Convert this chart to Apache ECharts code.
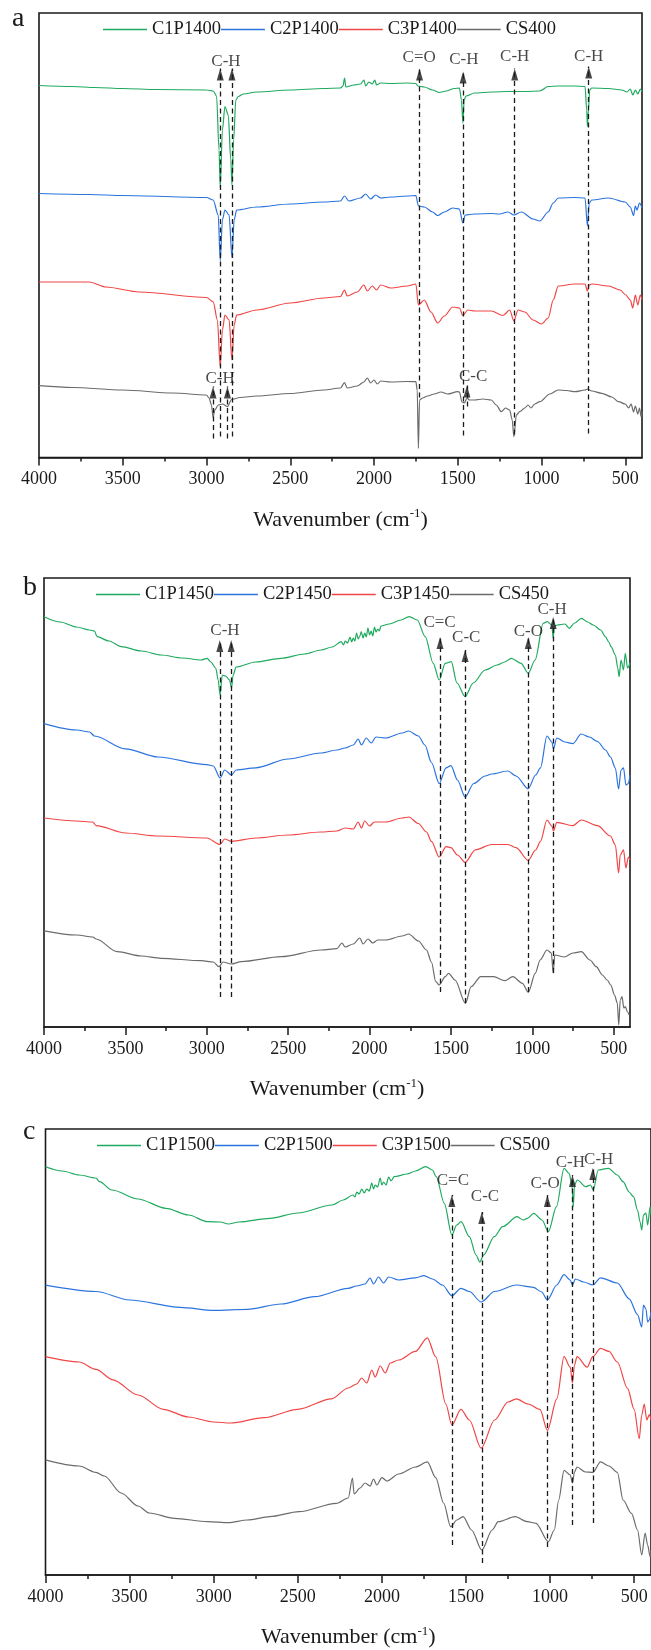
<!DOCTYPE html>
<html>
<head>
<meta charset="utf-8">
<script src="https://cdn.jsdelivr.net/npm/echarts@6/dist/echarts.min.js"></script>
<style>
  html, body { margin: 0; padding: 0; background: #fff; }
  #chart { width: 651px; height: 1650px; }
</style>
</head>
<body>
<div id="chart"></div>
<script>
// FTIR spectra, [wavenumber (cm-1), relative transmittance offset]
// ---- panel a ----
const c1p1400 = [[4000,372],[3800,371],[3663,370],[3500,369],[3300,368],[3000,367.5],[2960,366.5],[2940,361.5],[2925,307.5],[2918,269.5],[2905,327.5],[2890,351],[2870,342.5],[2855,297.5],[2848,272.5],[2838,317.5],[2825,357.5],[2810,361],[2780,363.5],[2700,365.5],[2500,367.5],[2300,369],[2200,369.5],[2185,371.5],[2176,379.5],[2168,370.5],[2120,372.5],[2080,373.5],[2060,377.5],[2050,371.5],[2030,375.5],[2010,373.5],[1995,377.5],[1985,372.5],[1960,374.5],[1900,374],[1800,374.5],[1750,374],[1738,371.5],[1700,370.5],[1650,367.5],[1610,365],[1570,366.5],[1520,369],[1490,369.5],[1478,357.5],[1469,334.5],[1462,357.5],[1450,361.5],[1400,364.5],[1300,365.5],[1200,366],[1100,366],[1010,366.5],[960,371],[900,371.5],[800,371.5],[740,371],[730,347.5],[726,331],[720,347.5],[712,367.5],[700,369.5],[600,369],[520,367.5],[490,365.5],[470,368.5],[455,362.5],[440,367.5],[425,363.5],[410,368.5],[400,365.5]];
const c2p1400 = [[4000,264],[3700,263],[3500,262],[3000,260],[2960,257.5],[2930,242.5],[2918,196.7],[2905,237.5],[2890,247.5],[2865,242.5],[2848,200],[2835,237.5],[2820,247.5],[2700,250.5],[2500,253.5],[2300,255.5],[2200,256.5],[2176,261.5],[2150,256.5],[2080,259.5],[2050,263.5],[2020,258.5],[1990,262.5],[1960,259.5],[1900,260.5],[1800,261.5],[1750,262],[1735,251.5],[1700,250.5],[1650,245.5],[1620,242],[1580,245.5],[1530,249.5],[1490,248.5],[1470,234.5],[1455,242.5],[1400,243.5],[1300,244],[1250,243.5],[1200,245.5],[1165,242.5],[1120,245.5],[1050,238.5],[1010,236.5],[960,245.5],[930,254.5],[900,259.5],[800,260],[740,259.5],[726,231.5],[715,254.5],[700,257.5],[600,259.5],[500,255.5],[470,250.5],[450,242],[440,251.5],[430,247.5],[415,254.5],[400,249.5]];
const c3p1400 = [[4000,175.5],[3800,175.5],[3700,175.5],[3600,170.5],[3400,165.5],[3000,160],[2960,155.7],[2935,137.5],[2918,90.5],[2905,127.5],[2890,142.5],[2865,137.5],[2848,97.5],[2835,132.5],[2820,142.5],[2700,147.5],[2500,154.5],[2300,159.5],[2200,161],[2176,167.5],[2160,161.5],[2100,165.5],[2060,172.5],[2040,166.5],[2010,171.5],[1985,167.5],[1960,172.5],[1900,169.5],[1800,171.5],[1750,173.5],[1735,152.5],[1700,157.5],[1660,145.5],[1620,134.5],[1580,141.5],[1530,150.5],[1490,149.5],[1470,142],[1440,147.5],[1400,146.5],[1300,146.5],[1230,142],[1190,147.5],[1165,136.7],[1140,147.5],[1100,145.5],[1050,137.5],[1000,133.5],[960,139.5],[930,157.5],[900,171.5],[800,173.5],[740,173.5],[726,166.5],[715,172.5],[700,173.5],[600,171.5],[530,167.5],[500,163],[470,157.5],[455,149.5],[440,162.5],[425,152.5],[410,162.5],[400,157.5]];
const cs400 = [[4000,71.8],[3800,70],[3500,67.5],[3200,64.5],[3000,62.5],[2985,59.5],[2970,52.5],[2961,40],[2950,47.5],[2930,52.5],[2905,53.5],[2875,50.8],[2850,58],[2800,60],[2700,61.5],[2500,64],[2300,67.5],[2200,69.5],[2176,74.8],[2160,69.5],[2100,71.5],[2060,75.5],[2040,79.5],[2020,74.5],[2000,77.5],[1980,73.5],[1960,76.5],[1900,75.5],[1800,76],[1750,75.8],[1742,67.5],[1735,9.2],[1728,57.5],[1710,59.5],[1680,61.5],[1640,63.5],[1600,65.5],[1560,63.5],[1500,65.8],[1490,65.5],[1475,55.5],[1460,54.5],[1445,59.5],[1430,57.5],[1400,57.5],[1350,58.5],[1300,57.5],[1270,52.5],[1240,45.8],[1215,49.5],[1190,47.5],[1175,37.5],[1165,20.8],[1150,42.5],[1130,45.8],[1100,49.5],[1080,52.5],[1063,49.5],[1040,53.5],[1010,55.8],[950,63.5],[900,67.5],[850,67],[800,65.8],[740,67.5],[726,68.5],[700,66.5],[640,64.2],[580,60.5],[540,55.8],[500,53.5],[480,49.5],[465,53.5],[450,45.5],[440,51.5],[425,43.5],[415,49.5],[405,40.8],[400,45.5]];

// ---- panel b ----
const c1p1450 = [[4000,410.3],[3900,405],[3800,400],[3720,397],[3690,396],[3674,390.3],[3600,386],[3526,380.3],[3400,376],[3281,372],[3150,369],[3034,367],[2998,368.7],[2975,365],[2945,359],[2930,347],[2918,332],[2905,352],[2885,351],[2860,347],[2848,339],[2838,352],[2820,360],[2700,365],[2543,368.7],[2400,373],[2298,377],[2230,380],[2174,385.3],[2160,382],[2150,386],[2135,384],[2120,390],[2110,385],[2100,389],[2090,386],[2080,394],[2070,388],[2060,391],[2051,395.3],[2040,389],[2030,394],[2020,390],[2010,399],[2000,392],[1990,396],[1980,391],[1970,400],[1960,395],[1950,398],[1940,396],[1930,401],[1880,403],[1806,407],[1757,410.3],[1707,407],[1658,390.3],[1609,363.7],[1572,347],[1535,363.7],[1498,365.3],[1463,344],[1413,330.3],[1363,344],[1290,357],[1216,362],[1170,365],[1130,368.7],[1069,363.7],[1025,353.7],[983,367],[933,403.7],[909,405.3],[880,402],[872,388.7],[865,401],[847,402],[800,403],[773,398.7],[740,404],[699,408.7],[660,405],[626,402],[580,397],[552,390.3],[530,385],[516,380.3],[490,372],[475,359],[467,350.3],[455,367],[440,357],[429,373.7],[415,359],[400,364]];
const c2p1450 = [[4000,303.4],[3800,297],[3720,295],[3690,291],[3500,278.2],[3300,270],[3000,262.4],[2960,261],[2918,249],[2890,257],[2848,252],[2820,257],[2700,259.2],[2500,268],[2300,274],[2200,277],[2150,279],[2100,282],[2070,288],[2050,282],[2020,289],[1990,284],[1960,290],[1900,289],[1800,294],[1760,296],[1700,291],[1660,282],[1620,264.5],[1572,243.5],[1530,259.2],[1500,261.4],[1460,247],[1413,230],[1360,243.5],[1290,251],[1250,253],[1150,256],[1100,251],[1025,238.2],[980,252],[950,259.2],[910,291],[880,285],[870,278.2],[850,289],[800,285],[750,283.4],[700,293],[650,290],[600,285.5],[550,277],[520,270],[490,259],[470,238],[455,257],[440,259.2],[425,242],[410,243.5],[400,252]];
const c3p1450 = [[4000,209],[3800,206],[3700,205],[3680,201.4],[3500,194],[3300,191],[3000,189],[2918,182.5],[2890,188],[2848,185.6],[2700,189],[2500,192],[2300,195],[2200,196],[2150,199],[2100,198],[2070,205],[2050,199],[2030,206],[2000,201],[1970,205],[1900,205],[1800,209],[1760,210],[1700,203.5],[1650,195],[1620,185.6],[1572,170],[1530,180.4],[1500,179.3],[1460,172],[1413,164.6],[1350,177.2],[1250,182.5],[1150,182.5],[1100,179.3],[1025,166.7],[980,177],[950,185.6],[910,207],[880,201],[870,196],[850,204.6],[750,201.4],[700,207],[600,201.4],[520,191],[490,182],[470,154],[460,172],[440,177.2],[425,159],[410,170],[400,167]];
const cs450 = [[4000,96.2],[3800,92],[3700,90],[3680,88],[3550,75.3],[3400,71],[3281,68.7],[3034,66.3],[2960,65],[2925,60.3],[2900,65],[2850,63],[2789,65.3],[2543,70.3],[2298,77],[2200,78.4],[2170,84],[2150,80],[2100,83],[2060,89],[2040,83],[2010,88],[1980,84],[1950,87],[1900,87],[1800,91],[1760,93],[1700,86],[1650,77],[1620,65],[1593,45.3],[1572,42],[1535,50.3],[1515,53.7],[1475,47],[1411,23.7],[1376,40.3],[1317,50.3],[1238,50.3],[1169,46.3],[1120,50.3],[1061,43.7],[1025,34.7],[982,53.7],[952,67],[910,77],[883,74],[872,54],[862,72],[804,70],[750,74],[699,75.3],[646,67],[607,60.3],[570,52],[540,47],[518,42],[495,32],[478,24],[469,2],[460,27],[449,30.3],[438,19],[429,20.3],[415,15],[405,12]];

// ---- panel c ----
const c1p1500 = [[4000,408.3],[3900,404],[3800,400],[3700,397],[3679,393.3],[3605,385],[3450,376],[3284,366.7],[3150,360],[3036,353.3],[2960,353],[2913,351],[2850,353],[2666,356.7],[2500,362],[2296,370],[2230,375],[2172,380],[2160,378],[2150,383],[2135,381],[2120,386],[2105,382],[2090,386],[2075,384],[2060,392],[2050,386],[2040,390],[2025,388],[2010,397],[2000,390],[1990,393],[1975,390],[1960,398],[1945,394],[1927,398.3],[1850,401],[1800,404],[1739,408.3],[1700,405],[1677,398.3],[1629,371.7],[1584,340],[1555,350],[1529,353.3],[1480,338.3],[1440,320],[1418,313],[1395,320],[1332,338.3],[1282,348.3],[1196,358.3],[1160,355],[1135,356.7],[1097,361.7],[1048,355],[1010,343.3],[962,368.3],[917,406.7],[887,401.7],[870,390],[862,368.3],[855,390],[838,395],[788,388.3],[760,390],[743,385],[714,405],[653,406.7],[600,400],[566,393.3],[530,383],[504,378.3],[480,365],[465,353],[455,345],[445,360],[430,362],[420,350],[405,368.3],[400,360]];
const c2p1500 = [[4000,289.8],[3700,283.5],[3500,275],[3200,267.7],[3000,264.6],[2800,265.6],[2600,271],[2400,278.3],[2200,286.7],[2150,289],[2100,291],[2070,297],[2050,291],[2020,298],[1990,292],[1960,298],[1900,295],[1800,297.2],[1750,299.3],[1700,296],[1640,290],[1584,279.3],[1530,286.7],[1480,283.5],[1410,273],[1330,283.5],[1200,290],[1100,287.7],[1050,283],[1016,275],[960,290],[917,300.3],[880,295],[867,290],[850,296],[800,293],[746,290],[700,297.2],[600,292],[530,276.2],[480,260.4],[455,248],[445,270],[430,266],[420,253],[410,255],[400,263]];
const c3p1500 = [[4000,218.3],[3800,213],[3700,205.7],[3600,195.2],[3450,180],[3300,165.7],[3150,158],[3000,153],[2900,152],[2700,157.3],[2500,165.7],[2300,176.2],[2200,187],[2150,191],[2120,197],[2090,192],[2060,205],[2040,198],[2010,209],[1980,202],[1950,212],[1900,215],[1800,223.6],[1730,237.2],[1680,218.3],[1620,171],[1584,150],[1530,165.7],[1480,155],[1410,126.8],[1330,155],[1250,173],[1200,176.2],[1130,171],[1060,165.7],[1016,144.7],[960,176.2],[917,218.3],[880,207.8],[867,192],[855,210],[840,218.3],[780,207.8],[746,218.3],[700,226.7],[650,223.6],[600,213],[540,186.8],[500,165.7],[470,136.3],[455,160],[440,171],[425,155],[410,160.4],[400,155]];
const cs500 = [[4000,115.2],[3800,109],[3700,102.6],[3650,99],[3550,82],[3450,69],[3383,62],[3234,56.7],[3036,53.3],[2913,52.3],[2800,55],[2666,58.3],[2493,63.3],[2271,71.7],[2200,77],[2175,97],[2165,81],[2130,87],[2100,92],[2070,89],[2050,96],[2030,90],[2000,97.4],[1970,94],[1900,101],[1800,108],[1730,113.1],[1680,97.4],[1633,72],[1591,48.3],[1554,55],[1517,58.3],[1467,45],[1406,25],[1344,45],[1308,53.3],[1208,58.3],[1134,53.3],[1084,51.7],[1010,33.3],[975,45],[949,75],[917,104.7],[880,100],[867,92],[855,103],[840,108],[790,103],[746,102.6],[700,113.1],[650,109],[600,102.6],[566,75],[516,61.7],[480,45],[455,20],[435,42],[420,30],[405,18.3],[400,25]];

// band markers: [wavenumber, arrow tip, dashed line foot]
const bandsA = [[2918,389,21],[2848,389,21],[1728,389,60],[1468,386,22],[1160,389,23],[718,391,24],[2961,71,19],[2875,71,19],[1445,72,51]];
const bandsB = [[2920,387,30],[2850,387,30],[1567,390,35],[1413,377,24],[1025,390,35],[872,410,54]];
const bandsC = [[1584,380,30],[1406,363,12],[1016,380,28],[867,400,50],[746,407,52]];
// band assignments: [text, wavenumber, height]
const tagsA = [['C-H',2884,396],['C=O',1730,400],['C-H',1464,398],['C-H',1160,401],['C-H',718,401],['C-H',2919,79],['C-C',1408,81]];
const tagsB = [['C-H',2888,396],['C=C',1570,404],['C-C',1406,389],['C-O',1025,395],['C-H',879,417]];
const tagsC = [['C=C',1578,394],['C-C',1387,378],['C-O',1030,391],['C-H',880,412],['C-H',711,415]];

const majorTicks = [500,1000,1500,2000,2500,3000,3500,4000];
const minorTicks = [750,1250,1750,2250,2750,3250,3750];

const FONT = '"Liberation Serif", "Times New Roman", serif';
const INK = '#1a1a1a';
const COLORS = ['#1faa5f', '#2b74de', '#f04646', '#6b6b6b'];

const panels = [
  { names: ['C1P1400','C2P1400','C3P1400','CS400'], data: [c1p1400,c2p1400,c3p1400,cs400],
    bands: bandsA, tags: tagsA, grid: { left: 39, top: 13, width: 603, height: 444.5 }, ymax: 444.5,
    legend: { left: 103, top: 20 }, letter: 'a', letterPos: [12, 5] },
  { names: ['C1P1450','C2P1450','C3P1450','CS450'], data: [c1p1450,c2p1450,c3p1450,cs450],
    bands: bandsB, tags: tagsB, grid: { left: 44, top: 578, width: 608, height: 449 }, ymax: 449,
    legend: { left: 96, top: 585 }, letter: 'b', letterPos: [23, 574] },
  { names: ['C1P1500','C2P1500','C3P1500','CS500'], data: [c1p1500,c2p1500,c3p1500,cs500],
    bands: bandsC, tags: tagsC, grid: { left: 45.5, top: 1129, width: 605.5, height: 446 }, ymax: 446,
    legend: { left: 97, top: 1136 }, letter: 'c', letterPos: [23, 1118] }
];

const option = {
  animation: false,
  backgroundColor: '#fff',
  grid: [], xAxis: [], yAxis: [], legend: [], series: [], graphic: []
};

panels.forEach((p, i) => {
  option.grid.push(Object.assign({ show: true, borderColor: INK, borderWidth: 1.6, backgroundColor: 'transparent' }, p.grid));
  // main wavenumber axis with labels
  option.xAxis.push({
    type: 'value', gridIndex: i, min: 400, max: 4000, inverse: true, position: 'bottom',
    name: '{m|Wavenumber (cm}{s|-1}{m|)}', nameLocation: 'middle', nameGap: 50,
    nameTextStyle: { rich: {
      m: { fontSize: 22, fontFamily: FONT, color: INK },
      s: { fontSize: 13, fontFamily: FONT, color: INK, padding: [0, 0, 12, 0] }
    } },
    axisLine: { show: true, onZero: false, lineStyle: { color: INK, width: 1.6 } },
    axisTick: { show: true, inside: false, length: 8, customValues: majorTicks, lineStyle: { color: INK, width: 1.5 } },
    axisLabel: { show: true, customValues: majorTicks, margin: 13, fontSize: 18, fontFamily: FONT, color: INK,
      formatter: v => String(v) },
    splitLine: { show: false }
  });
  // minor ticks between the labelled ones
  option.xAxis.push({
    type: 'value', gridIndex: i, min: 400, max: 4000, inverse: true, position: 'bottom',
    axisLine: { show: false, onZero: false },
    axisTick: { show: true, inside: false, length: 4, customValues: minorTicks, lineStyle: { color: INK, width: 1.5 } },
    axisLabel: { show: false }, splitLine: { show: false }
  });
  option.yAxis.push({ type: 'value', gridIndex: i, min: 0, max: p.ymax, show: false, splitLine: { show: false } });

  option.legend.push({
    left: p.legend.left, top: p.legend.top, padding: 0, itemGap: 0, itemWidth: 44, itemHeight: 1.6,
    icon: 'rect', data: p.names, selectedMode: false,
    textStyle: { fontSize: 18.5, fontFamily: FONT, color: INK }
  });

  p.names.forEach((nm, k) => {
    option.series.push({
      name: nm, type: 'line', xAxisIndex: 2 * i, yAxisIndex: i, data: p.data[k],
      showSymbol: false, smooth: 0.3, smoothMonotone: 'x', silent: true, z: 2,
      lineStyle: { color: COLORS[k], width: 1.2 }, itemStyle: { color: COLORS[k] }
    });
  });

  // dashed guides for the assigned bands
  option.series.push({
    type: 'line', xAxisIndex: 2 * i, yAxisIndex: i, data: [], silent: true, z: 3,
    markLine: {
      silent: true, symbol: ['none', 'none'], animation: false,
      label: { show: false },
      lineStyle: { color: INK, width: 1.3, type: [5, 3.5] },
      data: p.bands.map(b => [{ coord: [b[0], b[2]] }, { coord: [b[0], b[1]] }])
    }
  });
  // arrow heads
  option.series.push({
    type: 'scatter', xAxisIndex: 2 * i, yAxisIndex: i, silent: true, z: 4,
    symbol: 'triangle', symbolSize: [7, 12], symbolOffset: [0, '50%'],
    itemStyle: { color: INK },
    data: p.bands.map(b => [b[0], b[1]])
  });
  // band labels
  option.series.push({
    type: 'scatter', xAxisIndex: 2 * i, yAxisIndex: i, silent: true, z: 5,
    symbolSize: 1, itemStyle: { color: 'rgba(0,0,0,0)' },
    label: { show: true, position: 'inside', formatter: '{b}', fontSize: 17, fontFamily: FONT, color: INK },
    data: p.tags.map(t => ({ name: t[0], value: [t[1], t[2]] }))
  });

  option.graphic.push({
    type: 'text', left: p.letterPos[0], top: p.letterPos[1], silent: true,
    style: { text: p.letter, fontSize: 28, fontFamily: FONT, fill: INK }
  });
});

const chart = echarts.init(document.getElementById('chart'), null, { renderer: 'canvas' });
chart.setOption(option);
</script>
</body>
</html>
